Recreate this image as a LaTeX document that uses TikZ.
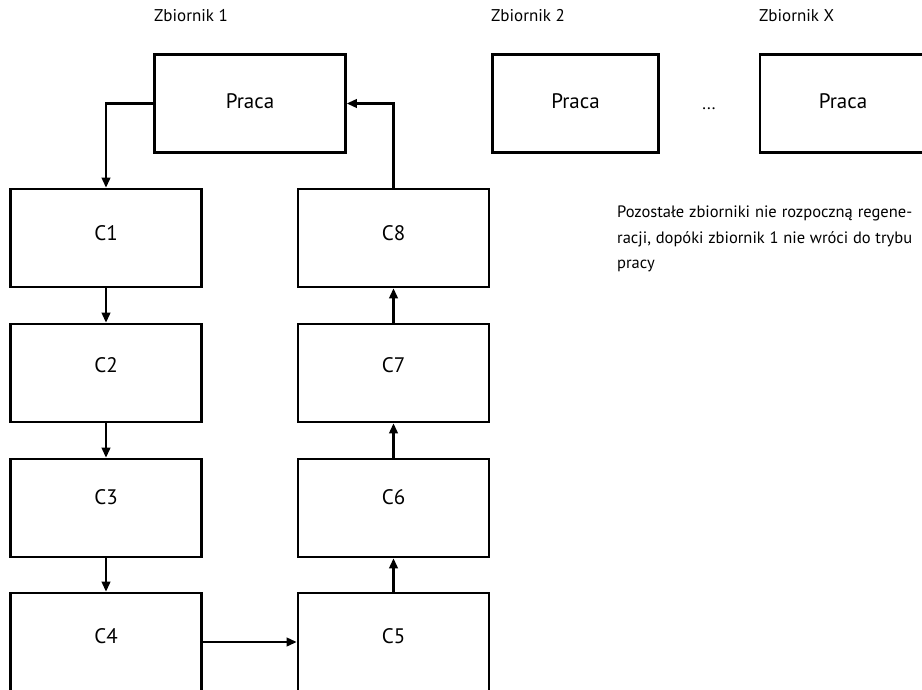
\documentclass[tikz,border=0pt]{standalone}
\usepackage{fontspec}
\setmainfont{PT Sans}
\usetikzlibrary{arrows.meta}
\begin{document}
\begin{tikzpicture}[x=1pt,y=-1pt,
  box/.style={draw, line width=2.6pt, minimum width=191pt, minimum height=98pt, inner sep=0pt,
    font=\fontsize{21}{25}\selectfont},
  arr/.style={line width=2.2pt, -{Triangle[length=10pt,width=8.5pt]}},
  lab/.style={inner sep=0pt, font=\fontsize{17}{25.5}\selectfont}]
\useasboundingbox (0,0) rectangle (922,690);
\clip (0,0) rectangle (922,690);
% Praca boxes
\node[box] (p1) at (250,103.5) {\raisebox{4pt}{Praca}};
\node[box, minimum width=166pt] (p2) at (575.5,103.5) {\raisebox{4pt}{Praca}};
\node[box, minimum width=166pt] (px) at (843,103.5) {\raisebox{4pt}{Praca}};
% left column
\node[box] (c1) at (106,238) {\raisebox{9pt}{C1}};
\node[box] (c2) at (106,373) {\raisebox{15pt}{C2}};
\node[box] (c3) at (106,508) {\raisebox{22pt}{C3}};
\node[box] (c4) at (106,642) {\raisebox{12pt}{C4}};
% right column
\node[box] (c8) at (393.5,238) {\raisebox{9pt}{C8}};
\node[box] (c7) at (393.5,373) {\raisebox{15pt}{C7}};
\node[box] (c6) at (393.5,508) {\raisebox{22pt}{C6}};
\node[box] (c5) at (393.5,642) {\raisebox{12pt}{C5}};
% labels
\node[lab, anchor=base west] (z1) at (154,22) {Zbiornik 1};
\node[lab, anchor=base west] (z2) at (491,22) {Zbiornik 2};
\node[lab, anchor=base west] (zx) at (759,22) {Zbiornik X};
\node[lab, anchor=base] (dots) at (709,110) {...};
\node[lab, font=\fontsize{16.5}{25.5}\selectfont, anchor=north west, align=left] (note) at (617,206)
  {\hbox to 295pt{Pozostałe zbiorniki nie rozpoczną regene-}\\
   \hbox to 295pt{racji, dopóki zbiornik 1 nie wróci do trybu}\\
   pracy};
% connectors
\draw[arr] (p1.west) -| (c1.north);
\draw[arr] (c1) -- (c2);
\draw[arr] (c2) -- (c3);
\draw[arr] (c3) -- (c4);
\draw[arr] (c4) -- (c5);
\draw[arr] (c5) -- (c6);
\draw[arr] (c6) -- (c7);
\draw[arr] (c7) -- (c8);
\draw[arr] (c8.north) |- (p1.east);
\end{tikzpicture}
\end{document}
